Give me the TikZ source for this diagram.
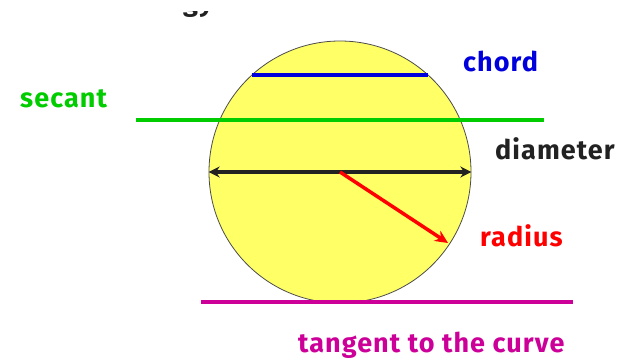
\documentclass[tikz,border=0pt]{standalone}
\usepackage{fontspec}
\setmainfont{Fira Sans}
\usetikzlibrary{arrows.meta}
\definecolor{fillyel}{HTML}{FFFF66}
\definecolor{chordblue}{HTML}{0000DD}
\definecolor{secgreen}{HTML}{00CC00}
\definecolor{tanmag}{HTML}{CC0099}
\definecolor{radred}{HTML}{FF0000}
\definecolor{diadark}{HTML}{222222}
\tikzset{
  lbl/.style={font=\fontsize{27}{30}\selectfont\bfseries\addfontfeatures{LetterSpace=4}, inner sep=0pt},
  seg/.style={line width=3.5pt},
}
\begin{document}
\begin{tikzpicture}[x=1pt,y=-1pt]
\useasboundingbox (0,0) rectangle (626,361);
\begin{scope}
\clip (170,12) rectangle (230,26);
\node[lbl, anchor=base, text=diadark] (top) at (198,12) {gy};
\end{scope}
\node[circle, draw=black!70, line width=0.8pt, fill=fillyel, minimum size=262pt, inner sep=0pt] (c) at (340,172) {};
\coordinate (ch1) at (252,75);
\coordinate (ch2) at (428,75);
\draw[seg, chordblue] (ch1) -- (ch2);
\coordinate (s1) at (136,120);
\coordinate (s2) at (544,120);
\draw[seg, secgreen] (s1) -- (s2);
\coordinate (t1) at (201,302);
\coordinate (t2) at (573,302);
\draw[seg, tanmag] (t1) -- (t2);
\draw[seg, diadark, {Stealth[length=11pt,width=11pt]}-{Stealth[length=11pt,width=11pt]}] (c.west) -- (c.east);
\coordinate (r2) at (448,243);
\draw[seg, radred, -{Stealth[length=13pt,width=12pt]}] (c.center) -- (r2);
\node[lbl, text=chordblue, anchor=base west] (chord) at (463,71) {chord};
\node[lbl, text=secgreen, anchor=base west] (secant) at (20,107) {secant};
\node[lbl, text=diadark, anchor=base west] (diam) at (495,159) {diameter};
\node[lbl, text=radred, anchor=base west] (rad) at (480,246) {radius};
\node[lbl, text=tanmag, anchor=base west] (tan) at (298,352) {tangent to the curve};
\end{tikzpicture}
\end{document}
